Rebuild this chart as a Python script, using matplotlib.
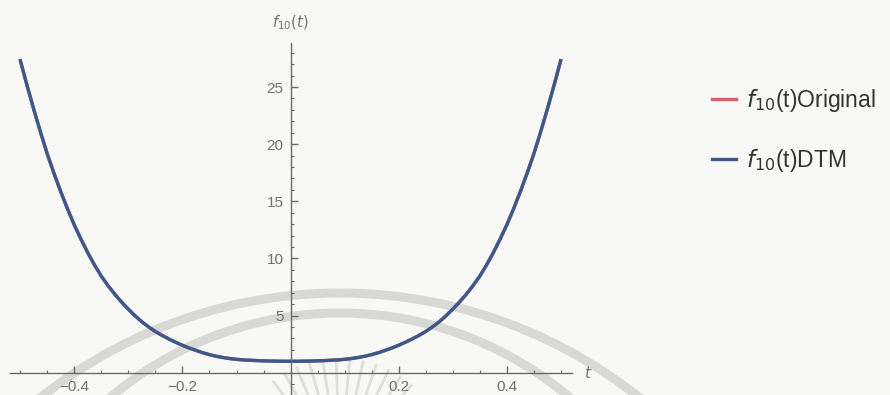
import numpy as np
import matplotlib
matplotlib.use("Agg")
import matplotlib.pyplot as plt
from matplotlib.patches import Arc
from matplotlib.ticker import MultipleLocator, FixedLocator

# f10(t) on the right half, step 0.0125; the curve is even in t
t_half = [0.0, 0.0125, 0.025, 0.0375, 0.05, 0.0625, 0.075, 0.0875, 0.1, 0.1125,
          0.125, 0.1375, 0.15, 0.1625, 0.175, 0.1875, 0.2, 0.2125, 0.225, 0.2375,
          0.25, 0.2625, 0.275, 0.2875, 0.3, 0.3125, 0.325, 0.3375, 0.35, 0.3625,
          0.375, 0.3875, 0.4, 0.4125, 0.425, 0.4375, 0.45, 0.4625, 0.475, 0.4875,
          0.5]
f_half = [1.0, 1.0, 1.01, 1.02, 1.04, 1.06, 1.09, 1.12, 1.17, 1.24,
          1.33, 1.44, 1.58, 1.75, 1.95, 2.16, 2.4, 2.66, 2.95, 3.26,
          3.6, 4.0, 4.45, 4.97, 5.55, 6.17, 6.85, 7.6, 8.43, 9.4,
          10.47, 11.65, 12.9, 14.3, 15.8, 17.4, 19.1, 21.0, 23.0, 25.1,
          27.3]

t = [-v for v in t_half[:0:-1]] + t_half
f_original = f_half[:0:-1] + f_half
f_dtm = list(f_original)

x_ticks = [-0.4, -0.2, 0.2, 0.4]
x_labels = ["\u22120.4", "\u22120.2", "0.2", "0.4"]
y_ticks = [5, 10, 15, 20, 25]

W, H = 890, 395
fig = plt.figure(figsize=(W / 100, H / 100), dpi=100)
fig.patch.set_facecolor("#f8f8f6")

# faint logo stamp behind the plot (pixel coordinates)
stamp = fig.add_axes([0, 0, 1, 1], zorder=0)
stamp.set_xlim(0, W)
stamp.set_ylim(H, 0)
stamp.axis("off")
band = "#d8d8d6"
stamp.add_patch(Arc((340, 774), 2 * 481, 2 * 481, theta1=180, theta2=360,
                    color=band, lw=6.5))
stamp.add_patch(Arc((340, 668), 2 * 355, 2 * 355, theta1=180, theta2=360,
                    color=band, lw=6.5))
cx, cy = 340, 470
for ang in np.arange(50, 132, 7.0):
    a = np.deg2rad(ang)
    stamp.plot([cx + 65 * np.cos(a), cx + 112 * np.cos(a)],
               [cy - 65 * np.sin(a), cy - 112 * np.sin(a)],
               color="#dededc", lw=2.0, solid_capstyle="butt")

# main plot, axes crossing at the origin
ax = fig.add_axes([9.6 / W, 0, 562.4 / W, (H - 43) / H], zorder=1)
ax.patch.set_alpha(0)
ax.set_xlim(-0.52, 0.521)
ax.set_ylim(-1.95, 28.85)

ax.plot(t, f_original, color="#d9606b", lw=2.4, label=r"$f_{10}$(t)Original")
ax.plot(t, f_dtm, color="#3a5a8e", lw=2.4, label=r"$f_{10}$(t)DTM")

axis_col = "#6a6a6a"
for side in ("top", "right"):
    ax.spines[side].set_visible(False)
ax.spines["left"].set_position(("data", 0))
ax.spines["bottom"].set_position(("data", 0))
for side in ("left", "bottom"):
    ax.spines[side].set_color(axis_col)
    ax.spines[side].set_linewidth(1.0)

ax.xaxis.set_major_locator(FixedLocator(x_ticks))
ax.xaxis.set_minor_locator(MultipleLocator(0.05))
ax.yaxis.set_major_locator(FixedLocator(y_ticks))
ax.yaxis.set_minor_locator(MultipleLocator(1))
ax.set_xticklabels(x_labels)
ax.tick_params(which="major", direction="in", length=5, width=1,
               color=axis_col, labelcolor="#707070", labelsize=11, pad=5)
ax.tick_params(which="minor", direction="in", length=2.5, width=0.8,
               color=axis_col)
for lab in ax.get_xticklabels() + ax.get_yticklabels():
    lab.set_fontfamily("Liberation Sans")

ax.text(0, 1.03, r"$f_{10}(t)$", transform=ax.get_xaxis_transform(),
        ha="center", va="bottom", color="#707070", fontsize=10.5)
ax.text(0.543, 0, r"$t$", ha="left", va="center", color="#707070",
        fontsize=11)

leg = fig.legend(loc="upper left", bbox_to_anchor=(712 / W, 1 - 87 / H),
                 frameon=False, borderpad=0, borderaxespad=0,
                 handlelength=1.05, handletextpad=0.45, labelspacing=1.45,
                 prop={"family": "Liberation Sans", "size": 16.5})
for txt in leg.get_texts():
    txt.set_color("#333333")

fig.savefig("out.png", dpi=100, facecolor=fig.get_facecolor())
